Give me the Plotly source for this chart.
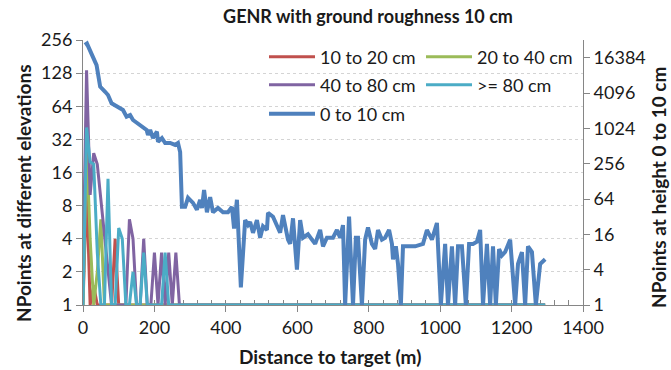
import plotly.graph_objects as go

# ---- data -------------------------------------------------------------
# distance (m) for the elevated-point series; the last entry closes the line
# along the baseline out to the end of the survey
dist_near = [0, 10, 20, 30, 40, 50, 60, 70, 80, 90, 100, 110, 120, 130, 140,
             150, 160, 170, 180, 190, 200, 210, 220, 230, 240, 250, 260, 270,
             280, 1294]

pts_10_20 = [1, 12, 1, 1.5, 1, 1, 1, 1, 1, 4, 1, 1, 1, 1, 1,
             1, 1, 1, 1, 1, 1, 1, 1, 1, 1, 1, 1, 1, 1, 1]
pts_20_40 = [1, 30, 4, 1, 2, 6, 1, 1, 1, 1, 1, 1, 1, 1, 1,
             1, 1, 1, 1, 1, 1, 1, 1, 1, 1, 1, 1, 1, 1, 1]
pts_40_80 = [2, 136, 10, 24, 19, 9, 4, 2, 1, 1, 1, 1, 1, 6, 4,
             1, 1, 4, 1, 1, 3, 1, 3, 1, 3, 1, 3, 1, 1, 1]
pts_80_up = [1, 41, 20, 19, 3, 1, 1, 14, 1, 1, 5, 4, 1, 1, 2,
             1, 1, 3, 1, 1, 1, 1, 1, 3, 1, 1, 1, 1, 1, 1]

# ground points (0 to 10 cm), plotted on the secondary axis
dist_ground = [5, 11, 38, 48, 62, 70, 80, 98, 112, 122, 132, 140, 151, 160, 168,
               178, 182, 188, 196, 207, 210, 221, 230, 244, 258, 266, 272, 277,
               286, 294, 308, 319, 328, 333, 339, 347, 356, 364, 378, 392, 406,
               417, 423, 431, 442, 454, 462, 468, 476, 487, 496, 504, 515, 518,
               532, 543, 552, 560, 574, 580, 588, 599, 608, 616, 630, 650, 664,
               672, 683, 700, 711, 720, 728, 734, 745, 756, 764, 770, 781, 790,
               798, 809, 818, 826, 837, 846, 857, 865, 868, 876, 882, 890, 896,
               910, 930, 952, 963, 977, 991, 1002, 1014, 1022, 1033, 1042, 1050,
               1061, 1072, 1081, 1092, 1103, 1112, 1120, 1131, 1140, 1148, 1156,
               1165, 1173, 1182, 1196, 1210, 1218, 1229, 1238, 1246, 1257, 1268,
               1280, 1294]
pts_0_10 = [27000, 28500, 12250, 5250, 4300, 3790, 2740, 2390, 2100, 1620, 1720,
            1420, 1260, 1170, 1090, 960, 790, 960, 700, 900, 605, 700, 576, 576,
            533, 576, 405, 47, 47, 67, 55, 42, 62, 45, 91, 38, 69, 38, 45, 38,
            38, 47, 20, 62, 2, 28, 23, 26, 17, 28, 14, 22, 19, 37, 32, 23, 17,
            34, 13, 11, 30, 4, 28, 14, 16, 11, 19, 10, 14, 14, 19, 14, 23, 1,
            32, 1, 14, 14, 1, 13, 21, 11, 9, 19, 13, 14, 19, 11, 6, 10, 5, 1,
            10, 10, 10, 11, 19, 13, 25, 1, 11, 1, 10, 1, 10, 10, 1, 11, 11, 12,
            19, 1, 11, 1, 10, 1, 9, 7, 8, 13, 1, 5, 8, 1, 10, 8, 1, 5, 6]

left_ticks = [1, 2, 4, 8, 16, 32, 64, 128, 256]
right_ticks = [1, 4, 16, 64, 256, 1024, 4096, 16384]
x_ticks = [0, 200, 400, 600, 800, 1000, 1200, 1400]

FONT = "Lato"
TXT = "#1a1a1a"
AXIS = "#868686"

fig = go.Figure()

series = [
    ("10 to 20 cm", pts_10_20, "#C0504D", "legend"),
    ("20 to 40 cm", pts_20_40, "#9BBB59", "legend"),
    ("40 to 80 cm", pts_40_80, "#8064A2", "legend2"),
    (">= 80 cm", pts_80_up, "#4BACC6", "legend2"),
]
for name, vals, col, leg in series:
    fig.add_trace(go.Scatter(
        x=dist_near, y=vals, name=name, mode="lines",
        line=dict(color=col, width=3), legend=leg))

fig.add_trace(go.Scatter(
    x=dist_ground, y=pts_0_10, name="0 to 10 cm", mode="lines",
    line=dict(color="#4F81BD", width=4), yaxis="y2", legend="legend3"))

legend_common = dict(
    orientation="h", xanchor="left", yanchor="middle",
    bgcolor="rgba(0,0,0,0)", borderwidth=0,
    font=dict(family=FONT, size=18, color=TXT),
    entrywidth=96, entrywidthmode="pixels", itemwidth=46,
    traceorder="normal",
)

title_font = dict(family=FONT, size=19, color=TXT)

fig.update_layout(
    width=671, height=370,
    margin=dict(l=83, r=88, t=40, b=65, autoexpand=False),
    paper_bgcolor="white", plot_bgcolor="white",
    font=dict(family=FONT, size=18, color=TXT),
    title=dict(text="<b>GENR with ground roughness 10 cm</b>",
               x=368 / 671, xref="container", xanchor="center",
               y=1 - 17 / 370, yref="container", yanchor="middle",
               font=dict(family=FONT, size=18, color=TXT)),
    legend=dict(x=0.362, y=0.936, **legend_common),
    legend2=dict(x=0.362, y=0.830, **legend_common),
    legend3=dict(x=0.362, y=0.721, **legend_common),
    xaxis=dict(
        range=[0, 1400], tickvals=x_ticks, showgrid=False, zeroline=False,
        showline=True, linecolor=AXIS, linewidth=1, layer="below traces",
        ticks="outside", ticklen=6, tickcolor=AXIS,
        tickfont=dict(family=FONT, size=18, color=TXT),
        minor=dict(dtick=40, ticks="inside", ticklen=5, tickcolor=AXIS,
                   showgrid=False),
    ),
    yaxis=dict(
        type="log", range=[0, 2.40824], tickvals=left_ticks,
        ticktext=[str(v) for v in left_ticks],
        showgrid=True, gridcolor="#d4d4d4", griddash="dot", gridwidth=1,
        zeroline=False, showline=True, linecolor=AXIS, linewidth=1,
        layer="below traces",
        ticks="outside", ticklen=6, tickcolor=AXIS,
        tickfont=dict(family=FONT, size=18, color=TXT),
    ),
    yaxis2=dict(
        type="log", range=[0, 4.51545], overlaying="y", side="right",
        tickvals=right_ticks, ticktext=[str(v) for v in right_ticks],
        showgrid=False, zeroline=False, showline=True, linecolor=AXIS,
        linewidth=1, layer="below traces",
        ticks="outside", ticklen=6, tickcolor=AXIS,
        tickfont=dict(family=FONT, size=18, color=TXT),
    ),
    annotations=[
        dict(text="<b>NPoints at different elevations</b>", textangle=-90,
             xref="paper", yref="paper", x=(23 - 83) / 500, y=(305 - 194) / 265,
             xanchor="center", yanchor="middle", showarrow=False,
             font=title_font),
        dict(text="<b>NPoints at height 0 to 10 cm</b>", textangle=-90,
             xref="paper", yref="paper", x=(658 - 83) / 500, y=(305 - 188) / 265,
             xanchor="center", yanchor="middle", showarrow=False,
             font=title_font),
        dict(text="<b>Distance to target (m)</b>",
             xref="paper", yref="paper", x=(330 - 83) / 500, y=(305 - 356) / 265,
             xanchor="center", yanchor="middle", showarrow=False,
             font=title_font),
    ],
)

fig.write_html("out.html")
